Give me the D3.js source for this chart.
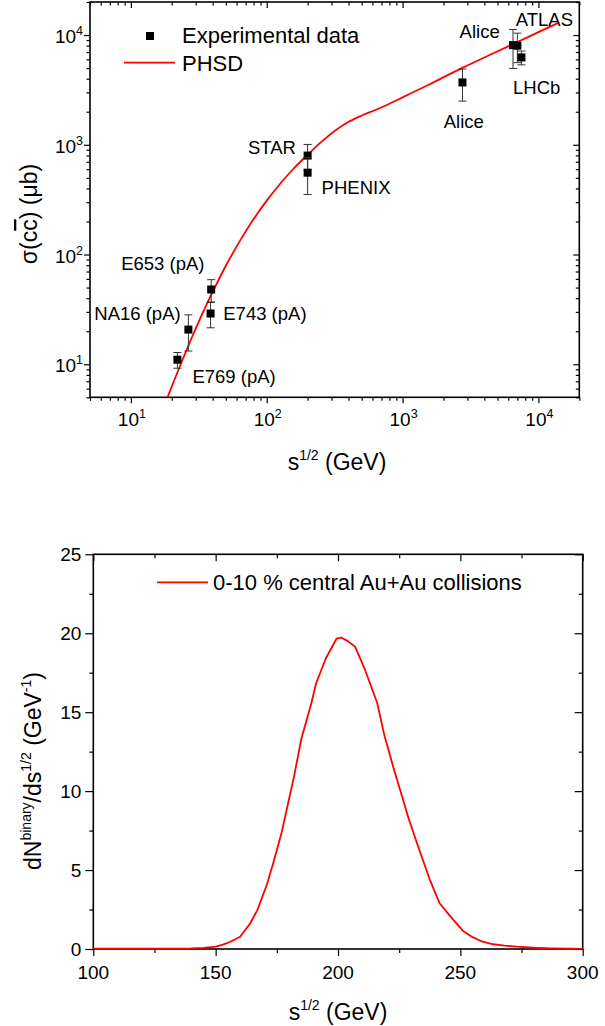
<!DOCTYPE html>
<html>
<head>
<meta charset="utf-8">
<script src="https://cdn.jsdelivr.net/npm/d3@7"></script>
<style>
  body { margin: 0; background: #fff; }
  svg text { font-family: "Liberation Sans", Arial, sans-serif; fill: #000; }
</style>
</head>
<body>
<svg id="chart" width="605" height="1026"></svg>
<script>
// ---- upper panel: sigma(c cbar) vs sqrt(s) ----
var expLabels = ["E769 (pA)", "NA16 (pA)", "E743 (pA)", "E653 (pA)", "STAR", "PHENIX", "Alice", "Alice", "ATLAS", "LHCb"];
var expSqrtS  = [22, 26.5, 38.6, 39, 200, 200, 2760, 6500, 7000, 7500];
var expSigma  = [11, 20.7, 29, 48, 797, 557, 3700, 8100, 8000, 6250];
var expErr    = [1.8, 7.5, 7.5, 11, 210, 205, 1200, 3150, 2400, 900];

var phsdSqrtS = [18.6, 24, 31.6, 40, 50, 63, 79.4, 100, 126, 158, 200, 251, 282, 316, 398, 501, 631, 794, 1000, 1585, 2773, 5012, 7000, 10000, 13900];
var phsdSigma = [5, 11, 24.5, 45.6, 79, 131, 207, 310, 444, 608, 811, 1057, 1193, 1334, 1611, 1849, 2075, 2355, 2704, 3565, 5044, 7112, 8630, 10620, 12850];

var topMajorTicks = [10, 100, 1000, 10000];

// ---- lower panel: dN_binary / d sqrt(s) ----
var binSqrtS = [100, 120, 130, 140, 145, 150, 153, 156, 160, 164, 167, 171, 174, 177, 179, 182, 185, 189, 191, 195, 199.5, 201.5, 204, 207, 211, 216, 219, 223, 229, 232.5, 237.5, 241.5, 246, 251, 255, 259, 263.5, 268, 273, 280, 287, 295, 300];
var binDN    = [0.02, 0.02, 0.02, 0.04, 0.07, 0.15, 0.28, 0.46, 0.78, 1.6, 2.45, 4.1, 5.7, 7.4, 8.8, 10.9, 13.3, 15.5, 16.8, 18.4, 19.68, 19.72, 19.5, 19.15, 17.7, 15.6, 13.5, 11.3, 8.2, 6.6, 4.4, 2.9, 2.05, 1.16, 0.75, 0.46, 0.3, 0.22, 0.15, 0.08, 0.04, 0.02, 0.01];

var botXTicks = [100, 150, 200, 250, 300];
var botXMinor = [125, 175, 225, 275];
var botYTicks = [0, 5, 10, 15, 20, 25];
var botYMinor = [2.5, 7.5, 12.5, 17.5, 22.5];

var svg = d3.select("#chart");

// all 1..9 x 10^n values inside a log domain
function logTicks(domain) {
  var out = [];
  for (var e = 0; e <= 5; e++) {
    for (var m = 1; m <= 9; m++) {
      var v = m * Math.pow(10, e);
      if (v >= domain[0] && v <= domain[1]) out.push(v);
    }
  }
  return out;
}

function ticks(g, axisFn, scale, values, size, transform) {
  g.append("g")
    .attr("transform", transform)
    .attr("color", "#000")
    .call(axisFn(scale).tickValues(values).tickSize(size).tickSizeOuter(0).tickFormat(""))
    .call(function(s) {
      s.select(".domain").remove();
      s.selectAll("line").attr("stroke-width", 1.2);
    });
}

// ================= upper panel =================
var pA = {left: 90, right: 579.3, top: 2, bottom: 397.3};
var x1 = d3.scaleLog().domain([5, 2e4]).range([pA.left, pA.right]);
var y1 = d3.scaleLog().domain([5, 2e4]).range([pA.bottom, pA.top]);

var gA = svg.append("g");
var allA = logTicks([5, 2e4]);
var minorA = allA.filter(function(d) { return topMajorTicks.indexOf(d) < 0; });

ticks(gA, d3.axisBottom, x1, topMajorTicks, 6, "translate(0," + pA.bottom + ")");
ticks(gA, d3.axisBottom, x1, minorA, 3.5, "translate(0," + pA.bottom + ")");
ticks(gA, d3.axisTop, x1, topMajorTicks, -6, "translate(0," + pA.top + ")");
ticks(gA, d3.axisTop, x1, minorA, -3.5, "translate(0," + pA.top + ")");
ticks(gA, d3.axisLeft, y1, topMajorTicks, 6, "translate(" + pA.left + ",0)");
ticks(gA, d3.axisLeft, y1, minorA, 3.5, "translate(" + pA.left + ",0)");
ticks(gA, d3.axisRight, y1, topMajorTicks, -6, "translate(" + pA.right + ",0)");
ticks(gA, d3.axisRight, y1, minorA, -3.5, "translate(" + pA.right + ",0)");

gA.append("rect")
  .attr("x", pA.left).attr("y", pA.top)
  .attr("width", pA.right - pA.left).attr("height", pA.bottom - pA.top)
  .attr("fill", "none").attr("stroke", "#000").attr("stroke-width", 1.6);

// power-of-ten labels
function powLabel(sel, d) {
  sel.append("tspan").text("10");
  sel.append("tspan").attr("dy", -8).attr("font-size", 12.5).text(Math.round(Math.log10(d)));
}
gA.selectAll(".ylab").data(topMajorTicks).enter().append("text")
  .attr("x", pA.left - 7)
  .attr("y", function(d) { return y1(d) + 8; })
  .attr("text-anchor", "end")
  .style("font-size", "19px")
  .each(function(d) { powLabel(d3.select(this), d); });

gA.selectAll(".xlab").data(topMajorTicks).enter().append("text")
  .attr("x", function(d) { return x1(d) + 1; })
  .attr("y", pA.bottom + 29)
  .attr("text-anchor", "middle")
  .style("font-size", "19px")
  .each(function(d) { powLabel(d3.select(this), d); });

// axis titles
var xtA = gA.append("text")
  .attr("x", 337).attr("y", 470)
  .attr("text-anchor", "middle")
  .style("font-size", "23px");
xtA.append("tspan").text("s");
xtA.append("tspan").attr("dy", -10).attr("font-size", 14).text("1/2");
xtA.append("tspan").attr("dy", 10).text(" (GeV)");

var ytA = gA.append("text")
  .attr("transform", "translate(37,214)rotate(-90)")
  .attr("text-anchor", "middle")
  .style("font-size", "23px");
ytA.append("tspan").text("\u03c3(c");
ytA.append("tspan").style("text-decoration", "overline").text("c");
ytA.append("tspan").text(") (\u03bcb)");

// PHSD curve
var phsd = phsdSqrtS.map(function(d, i) { return [d, phsdSigma[i]]; });
gA.append("path")
  .datum(phsd)
  .attr("fill", "none")
  .attr("stroke", "#ff0000")
  .attr("stroke-width", 1.8)
  .attr("d", d3.line()
    .x(function(d) { return x1(d[0]); })
    .y(function(d) { return y1(d[1]); })
    .curve(d3.curveMonotoneX));

// experimental points with error bars
var exp = expSqrtS.map(function(d, i) {
  return {x: d, y: expSigma[i], e: expErr[i], label: expLabels[i]};
});
var pt = gA.selectAll(".pt").data(exp).enter().append("g");
pt.append("line")
  .attr("x1", function(d) { return x1(d.x); })
  .attr("x2", function(d) { return x1(d.x); })
  .attr("y1", function(d) { return y1(d.y - d.e); })
  .attr("y2", function(d) { return y1(d.y + d.e); })
  .attr("stroke", "#333").attr("stroke-width", 1);
[-1, 1].forEach(function(s) {
  pt.append("line")
    .attr("x1", function(d) { return x1(d.x) - 4; })
    .attr("x2", function(d) { return x1(d.x) + 4; })
    .attr("y1", function(d) { return y1(d.y + s * d.e); })
    .attr("y2", function(d) { return y1(d.y + s * d.e); })
    .attr("stroke", "#333").attr("stroke-width", 1);
});
pt.append("rect")
  .attr("x", function(d) { return x1(d.x) - 4; })
  .attr("y", function(d) { return y1(d.y) - 4; })
  .attr("width", 8).attr("height", 8)
  .attr("fill", "#000");

// label placement relative to each point (dx, dy, anchor)
var labelPos = [
  [15, 23.4, "start"],
  [-7.7, -9.7, "end"],
  [12.7, 6.3, "start"],
  [-6.7, -20, "end"],
  [-11.7, -1.4, "end"],
  [14, 21.7, "start"],
  [1.3, 46, "middle"],
  [-13.3, -7.4, "end"],
  [-1.6, -19.7, "start"],
  [-8.4, 37, "start"]
];
pt.append("text")
  .attr("x", function(d, i) { return x1(d.x) + labelPos[i][0]; })
  .attr("y", function(d, i) { return y1(d.y) + labelPos[i][1]; })
  .attr("text-anchor", function(d, i) { return labelPos[i][2]; })
  .style("font-size", "18.5px")
  .text(function(d) { return d.label; });

// legend
gA.append("rect").attr("x", 146).attr("y", 32).attr("width", 8).attr("height", 8).attr("fill", "#000");
gA.append("text").attr("x", 182).attr("y", 43.3).style("font-size", "22px").text("Experimental data");
gA.append("line").attr("x1", 124).attr("x2", 175).attr("y1", 62.7).attr("y2", 62.7)
  .attr("stroke", "#ff0000").attr("stroke-width", 1.8);
gA.append("text").attr("x", 182).attr("y", 70.7).style("font-size", "22px").text("PHSD");

// ================= lower panel =================
var pB = {left: 93.3, right: 582.7, top: 554.3, bottom: 949};
var x2 = d3.scaleLinear().domain([100, 300]).range([pB.left, pB.right]);
var y2 = d3.scaleLinear().domain([0, 25]).range([pB.bottom, pB.top]);

var gB = svg.append("g");
ticks(gB, d3.axisBottom, x2, botXTicks, 7, "translate(0," + pB.bottom + ")");
ticks(gB, d3.axisBottom, x2, botXMinor, 4, "translate(0," + pB.bottom + ")");
ticks(gB, d3.axisTop, x2, botXTicks, -7, "translate(0," + pB.top + ")");
ticks(gB, d3.axisTop, x2, botXMinor, -4, "translate(0," + pB.top + ")");
ticks(gB, d3.axisLeft, y2, botYTicks, 8, "translate(" + pB.left + ",0)");
ticks(gB, d3.axisLeft, y2, botYMinor, 4, "translate(" + pB.left + ",0)");
ticks(gB, d3.axisRight, y2, botYTicks, -8, "translate(" + pB.right + ",0)");
ticks(gB, d3.axisRight, y2, botYMinor, -4, "translate(" + pB.right + ",0)");

gB.append("rect")
  .attr("x", pB.left).attr("y", pB.top)
  .attr("width", pB.right - pB.left).attr("height", pB.bottom - pB.top)
  .attr("fill", "none").attr("stroke", "#000").attr("stroke-width", 1.6);

gB.selectAll(".ylab").data(botYTicks).enter().append("text")
  .attr("x", pB.left - 12)
  .attr("y", function(d) { return y2(d) + 6.8; })
  .attr("text-anchor", "end")
  .style("font-size", "19px")
  .text(function(d) { return d; });

gB.selectAll(".xlab").data(botXTicks).enter().append("text")
  .attr("x", function(d) { return x2(d); })
  .attr("y", 979.3)
  .attr("text-anchor", "middle")
  .style("font-size", "19px")
  .text(function(d) { return d; });

var xtB = gB.append("text")
  .attr("x", 338).attr("y", 1020)
  .attr("text-anchor", "middle")
  .style("font-size", "23px");
xtB.append("tspan").text("s");
xtB.append("tspan").attr("dy", -10).attr("font-size", 14).text("1/2");
xtB.append("tspan").attr("dy", 10).text(" (GeV)");

var ytB = gB.append("text")
  .attr("transform", "translate(41,771)rotate(-90)")
  .attr("text-anchor", "middle")
  .style("font-size", "23px");
ytB.append("tspan").text("dN");
ytB.append("tspan").attr("dy", -10).attr("font-size", 14).text("binary");
ytB.append("tspan").attr("dy", 10).text("/ds");
ytB.append("tspan").attr("dy", -10).attr("font-size", 14).text("1/2");
ytB.append("tspan").attr("dy", 10).text(" (GeV");
ytB.append("tspan").attr("dy", -10).attr("font-size", 14).text("-1");
ytB.append("tspan").attr("dy", 10).text(")");

var bin = binSqrtS.map(function(d, i) { return [d, binDN[i]]; });
gB.append("path")
  .datum(bin)
  .attr("fill", "none")
  .attr("stroke", "#ff0000")
  .attr("stroke-width", 1.8)
  .attr("stroke-linejoin", "round")
  .attr("d", d3.line()
    .x(function(d) { return x2(d[0]); })
    .y(function(d) { return y2(d[1]); }));

gB.append("line").attr("x1", 157).attr("x2", 208).attr("y1", 582.3).attr("y2", 582.3)
  .attr("stroke", "#ff0000").attr("stroke-width", 1.8);
gB.append("text").attr("x", 213).attr("y", 590).style("font-size", "22px")
  .text("0-10 % central Au+Au collisions");
</script>
</body>
</html>
